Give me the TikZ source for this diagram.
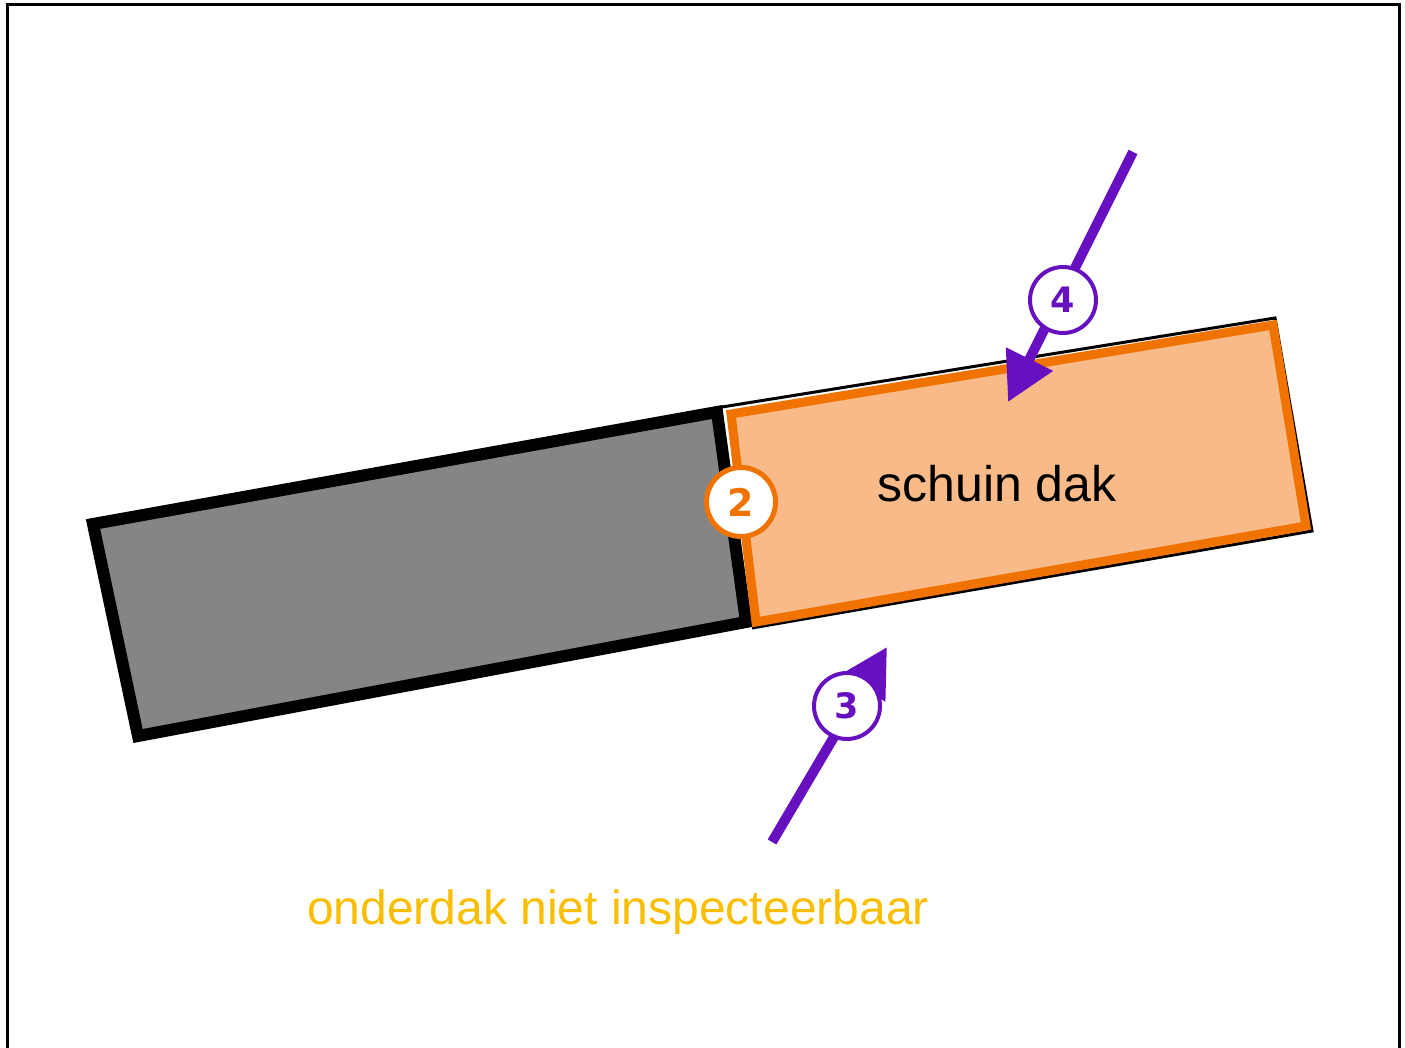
\documentclass[tikz,border=0pt]{standalone}
\usepackage{fontspec}
\setmainfont{Liberation Sans}
\newfontfamily\numfont{DejaVu Sans}
\usetikzlibrary{arrows.meta}
\definecolor{dakoranje}{RGB}{240,115,0}
\definecolor{dakvul}{RGB}{247,186,136}
\definecolor{paars}{RGB}{103,16,192}
\definecolor{geel}{RGB}{249,190,0}
\definecolor{grijs}{RGB}{133,133,133}
\begin{document}
\begin{tikzpicture}[x=1pt,y=-1pt,
    badge/.style={shape=circle, draw, fill=white, inner sep=0pt, minimum size=66pt, line width=4pt, font=\numfont\bfseries\fontsize{35}{35}\selectfont},
    pijl/.style={draw=paars, line width=10pt, -{Triangle[length=48pt,width=50pt]}}]
    \useasboundingbox (0,0) rectangle (1405,1048);
    % kader
    \draw[line width=3pt] (7,1070) -- (7,5) -- (1399,5) -- (1399,1070);

    % daken
    \draw[line width=12pt, fill=grijs, line join=miter] (93,524) -- (717,412) -- (746,622) -- (138,736) -- cycle;
    \draw[line width=3pt] (722,407) -- (1275,318) -- (1312,531) -- (752,628);
    \draw[line width=9pt, draw=dakoranje, fill=dakvul] (731,414) -- (1273,325) -- (1306,526) -- (756,622) -- cycle;

    \node (dak) [anchor=base] at (997,501) {\fontsize{50}{50}\selectfont schuin dak};
    \node (onder) [anchor=base, text=geel] at (618,924) {\fontsize{48}{48}\selectfont onderdak niet inspecteerbaar};

    % pijlen
    \coordinate (s4) at (1133,152);
    \coordinate (t4) at (1008,402);
    \coordinate (s3) at (772,842);
    \coordinate (t3) at (887,647);
    \path[pijl] (s4) -- (t4);
    \path[pijl] (s3) -- (t3);

    \node (2) [badge, draw=dakoranje, text=dakoranje, minimum size=69pt, line width=5pt, font=\numfont\bfseries\fontsize{38}{38}\selectfont] at (741,502) {2};
    \node (4) [badge, draw=paars, text=paars] at (1063,300) {4};
    \node (3) [badge, draw=paars, text=paars] at (847,706) {3};
\end{tikzpicture}
\end{document}
